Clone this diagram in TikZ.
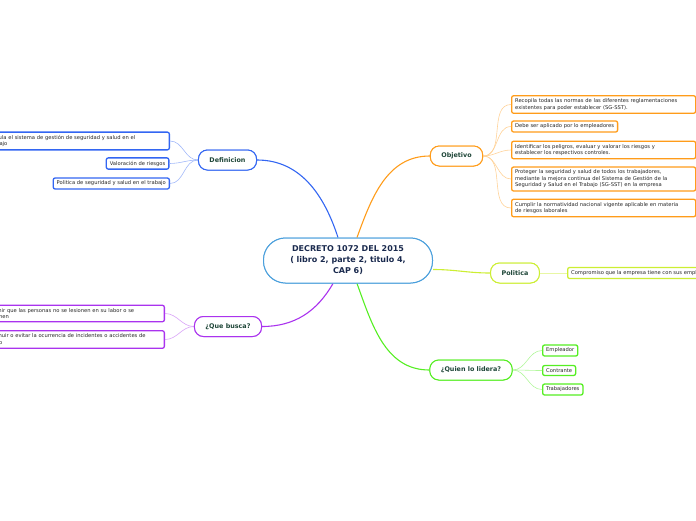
\documentclass[tikz,border=0pt]{standalone}
\usepackage{fontspec}
\setmainfont{DejaVu Sans}
\definecolor{cHub}{HTML}{4A9FDC}
\definecolor{cDef}{HTML}{3366F2}
\definecolor{cObj}{HTML}{FF9C1A}
\definecolor{cPol}{HTML}{CCEE33}
\definecolor{cLid}{HTML}{55EE22}
\definecolor{cBus}{HTML}{AA33EE}
\definecolor{cTopic}{HTML}{1E4638}
\definecolor{cNavy}{HTML}{1A2A4E}
\begin{document}
\begin{tikzpicture}[
        x=1pt, y=1pt,
        % Define styles for consistency
        hubbox/.style={draw=cHub, line width=1pt, fill=white, rounded corners=22pt,
            align=center, text=cNavy, font=\fontsize{8}{11}\selectfont\bfseries,
            minimum width=169pt, minimum height=45pt, inner sep=2pt},
        topic/.style={draw=#1, line width=1pt, fill=white, rounded corners=9pt,
            text=cTopic, font=\fontsize{6.4}{8}\selectfont\bfseries,
            minimum height=20pt, inner xsep=11pt, inner ysep=2pt},
        leaf/.style={draw=#1, line width=1.3pt, fill=white, rounded corners=2pt,
            text=black!85, font=\fontsize{5.2}{6.5}\selectfont,
            align=left, inner xsep=3.5pt, inner ysep=3pt},
        wide/.style={text width=177pt},
        branch/.style={#1, line width=1.1pt},
        twig/.style={#1!45, line width=0.6pt}
    ]
        \useasboundingbox (0,0) rectangle (696,-520);
        \clip (0,0) rectangle (696,-520);

        % --- Central Hub ---
        \node[hubbox] (hub) at (348,-260.5) {DECRETO 1072 DEL 2015\\( libro 2, parte 2, titulo 4,\\CAP 6)};

        % --- Main Topics ---
        \node[topic=cDef] (def) at (227.5,-160) {Definicion};
        \node[topic=cObj] (obj) at (456.5,-156) {Objetivo};
        \node[topic=cPol] (pol) at (515,-273) {Politica};
        \node[topic=cLid] (lid) at (471,-370) {¿Quien lo lidera?};
        \node[topic=cBus] (bus) at (228,-326.5) {¿Que busca?};

        % --- Definicion leaves ---
        \node[leaf=cDef, wide, anchor=east] (def1) at (170,-141) {Regula el sistema de gestión de seguridad y salud en el\\trabajo};
        \node[leaf=cDef, anchor=east] (def2) at (169.5,-163.5) {Valoración de riesgos};
        \node[leaf=cDef, anchor=east] (def3) at (170,-183.5) {Politica de seguridad y salud en el trabajo};

        % --- Objetivo leaves ---
        \node[leaf=cObj, wide, anchor=west] (obj1) at (511,-104.5) {Recopila todas las normas de las diferentes reglamentaciones\\existentes para poder establecer (SG-SST).};
        \node[leaf=cObj, anchor=west] (obj2) at (511,-126.5) {Debe ser aplicado por lo empleadores};
        \node[leaf=cObj, wide, anchor=west] (obj3) at (511,-150) {Identificar los peligros, evaluar y valorar los riesgos y\\establecer los respectivos controles.};
        \node[leaf=cObj, wide, anchor=west] (obj4) at (511,-179) {Proteger la seguridad y salud de todos los trabajadores,\\mediante la mejora continua del Sistema de Gestión de la\\Seguridad y Salud en el Trabajo (SG-SST) en la empresa};
        \node[leaf=cObj, wide, anchor=west] (obj5) at (511,-208) {Cumplir la normatividad nacional vigente aplicable en materia\\de riesgos laborales};

        % --- Politica leaf ---
        \node[leaf=cPol, anchor=west] (pol1) at (567,-273) {Compromiso que la empresa tiene con sus empleados};

        % --- Quien lo lidera leaves ---
        \node[leaf=cLid, anchor=west] (lid1) at (542,-350.5) {Empleador};
        \node[leaf=cLid, anchor=west] (lid2) at (542,-370.5) {Contrante};
        \node[leaf=cLid, anchor=west] (lid3) at (542,-389.5) {Trabajadores};

        % --- Que busca leaves ---
        \node[leaf=cBus, wide, anchor=east] (bus1) at (165,-313.5) {Prevenir que las personas no se lesionen en su labor o se\\enfermen};
        \node[leaf=cBus, wide, anchor=east] (bus2) at (165,-339.5) {Disminuir o evitar la ocurrencia de incidentes o accidentes de\\trabajo};

        % --- Draw Edges ---
        \draw[branch=cDef] ([xshift=-10pt]hub.north) to[out=108, in=0] (def.east);
        \draw[branch=cObj] ([xshift=9pt]hub.north) to[out=70, in=180] (obj.west);
        \draw[branch=cPol] ([yshift=-9pt]hub.east) to[out=0, in=180] (pol.west);
        \draw[branch=cLid] ([xshift=9pt]hub.south) to[out=-70, in=180] (lid.west);
        \draw[branch=cBus] ([xshift=-15pt]hub.south) to[out=-120, in=0] (bus.east);

        % Definicion twigs
        \foreach \n in {def1,def2,def3}
            \draw[twig=cDef] (def.west) to[out=180, in=0] (\n.east);
        % Objetivo twigs
        \foreach \n in {obj1,obj2,obj3,obj4,obj5}
            \draw[twig=cObj] (obj.east) to[out=0, in=180] (\n.west);
        % Politica twig
        \draw[twig=cPol] (pol.east) -- (pol1.west);
        % Quien lo lidera twigs
        \foreach \n in {lid1,lid2,lid3}
            \draw[twig=cLid] (lid.east) to[out=0, in=180] (\n.west);
        % Que busca twigs
        \foreach \n in {bus1,bus2}
            \draw[twig=cBus] (bus.west) to[out=180, in=0] (\n.east);

        % --- Redraw boxes on top of edges ---
        \node[hubbox] at (hub) {DECRETO 1072 DEL 2015\\( libro 2, parte 2, titulo 4,\\CAP 6)};
        \node[topic=cDef] at (def) {Definicion};
        \node[topic=cObj] at (obj) {Objetivo};
        \node[topic=cPol] at (pol) {Politica};
        \node[topic=cLid] at (lid) {¿Quien lo lidera?};
        \node[topic=cBus] at (bus) {¿Que busca?};

    \end{tikzpicture}
\end{document}
